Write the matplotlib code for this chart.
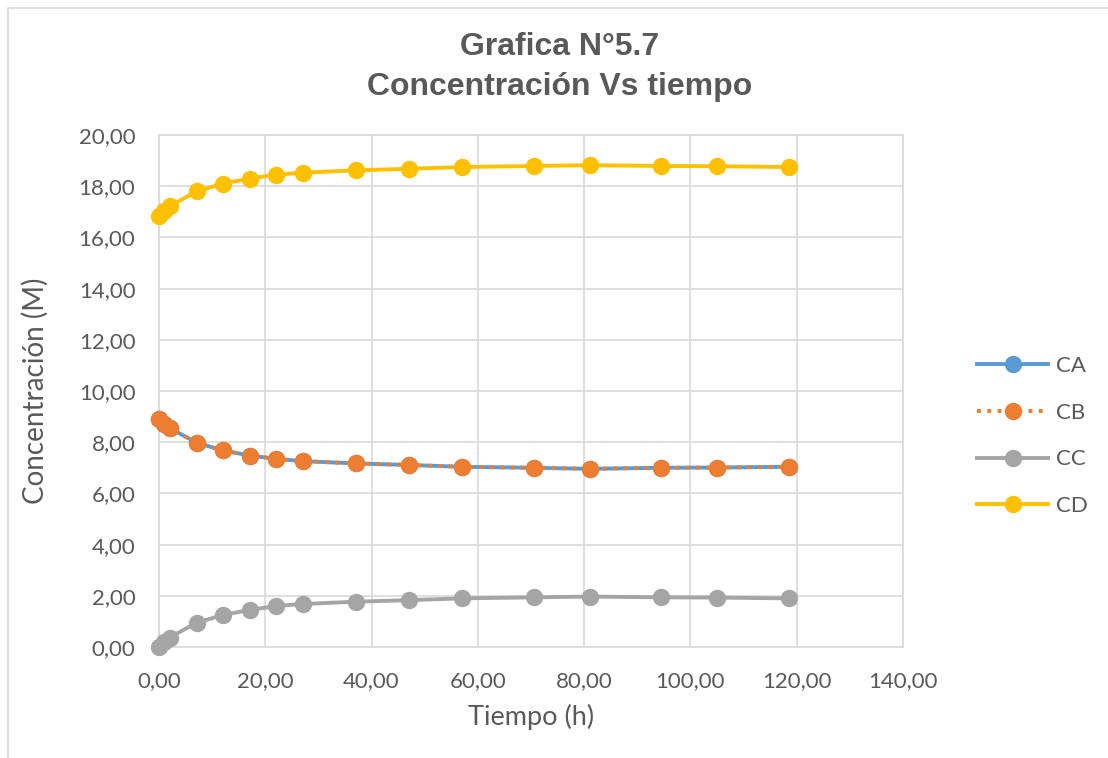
import matplotlib.pyplot as plt
from matplotlib.patches import Rectangle
from matplotlib.ticker import FuncFormatter, MultipleLocator

# tiempo (h) y concentraciones (M)
tiempo = [0.0, 1.0, 2.0, 7.1, 12.0, 17.1, 22.0, 27.1, 37.1, 47.0, 57.0, 70.6, 81.1, 94.5, 105.0, 118.6]
CA = [8.92, 8.72, 8.55, 7.98, 7.68, 7.48, 7.35, 7.26, 7.17, 7.11, 7.04, 7.00, 6.96, 7.00, 7.01, 7.04]
CB = [8.92, 8.72, 8.55, 7.98, 7.68, 7.48, 7.35, 7.26, 7.17, 7.11, 7.04, 7.00, 6.96, 7.00, 7.01, 7.04]
CC = [0.00, 0.20, 0.37, 0.95, 1.25, 1.45, 1.60, 1.68, 1.77, 1.83, 1.90, 1.94, 1.97, 1.94, 1.93, 1.90]
CD = [16.85, 17.05, 17.22, 17.80, 18.10, 18.30, 18.45, 18.53, 18.62, 18.68, 18.75, 18.79, 18.82, 18.79, 18.78, 18.75]

gris = '#595959'
fig = plt.figure(figsize=(11.08, 7.58), dpi=100)
# marco del area del grafico
fig.patches.append(Rectangle((8 / 1108, -0.1), 1.2, 1 - 8 / 758 + 0.1, transform=fig.transFigure,
                             facecolor='white', edgecolor='#D9D9D9', lw=1.2, zorder=-10))

ax = fig.add_axes([159 / 1108, 1 - 647 / 758, (903 - 159) / 1108, (647 - 135) / 758])
ax.set_facecolor('none')

ms = 11.5
ax.plot(tiempo, CA, '-o', color='#5B9BD5', lw=2.8, ms=ms, label='CA', zorder=3, clip_on=False)
ax.plot(tiempo, CB, ':o', color='#ED7D31', lw=2.8, ms=ms, label='CB', zorder=4, clip_on=False)
ax.plot(tiempo, CC, '-o', color='#A5A5A5', lw=2.8, ms=ms, label='CC', zorder=3, clip_on=False)
ax.plot(tiempo, CD, '-o', color='#FFC000', lw=2.8, ms=ms, label='CD', zorder=3, clip_on=False)

ax.set_xlim(0, 140)
ax.set_ylim(0, 20)
ax.xaxis.set_major_locator(MultipleLocator(20))
ax.yaxis.set_major_locator(MultipleLocator(2))
fmt = FuncFormatter(lambda v, p: f'{v:.2f}'.replace('.', ','))
ax.xaxis.set_major_formatter(fmt)
ax.yaxis.set_major_formatter(fmt)
ax.grid(True, color='#D9D9D9', lw=1.2)
ax.set_axisbelow(True)
for s in ax.spines.values():
    s.set_color('#D9D9D9')
    s.set_linewidth(1.2)
ax.tick_params(length=0, labelsize=16, colors=gris)
ax.tick_params(axis='x', pad=17)
ax.tick_params(axis='y', pad=17)
for t in ax.get_xticklabels() + ax.get_yticklabels():
    t.set_fontfamily('Lato')

ax.set_xlabel('Tiempo (h)', fontsize=19.5, color=gris, family='Lato')
ax.set_ylabel('Concentración (M)', fontsize=20, color=gris, family='Lato')
ax.xaxis.set_label_coords(0.5, -(717 - 647) / 512, transform=ax.transAxes)
ax.xaxis.label.set_va('center')
ax.yaxis.set_label_coords(-(159 - 35) / 744, 0.5, transform=ax.transAxes)
ax.yaxis.label.set_va('center')

fig.text(560 / 1108, 1 - 47 / 758, 'Grafica N°5.7', ha='center', va='center',
         fontsize=23, fontweight='bold', color=gris, family='Liberation Sans')
fig.text(560 / 1108, 1 - 87 / 758, 'Concentración Vs tiempo', ha='center', va='center',
         fontsize=23, fontweight='bold', color=gris, family='Liberation Sans')

leg = fig.legend(loc='center left', bbox_to_anchor=(957 / 1108, 1 - 436 / 758), frameon=False,
                 prop={'family': 'Lato', 'size': 16}, labelspacing=1.2, handlelength=3.2,
                 handletextpad=0.35, markerscale=1.0)
for t in leg.get_texts():
    t.set_color(gris)

fig.savefig('out.png', dpi=100)
